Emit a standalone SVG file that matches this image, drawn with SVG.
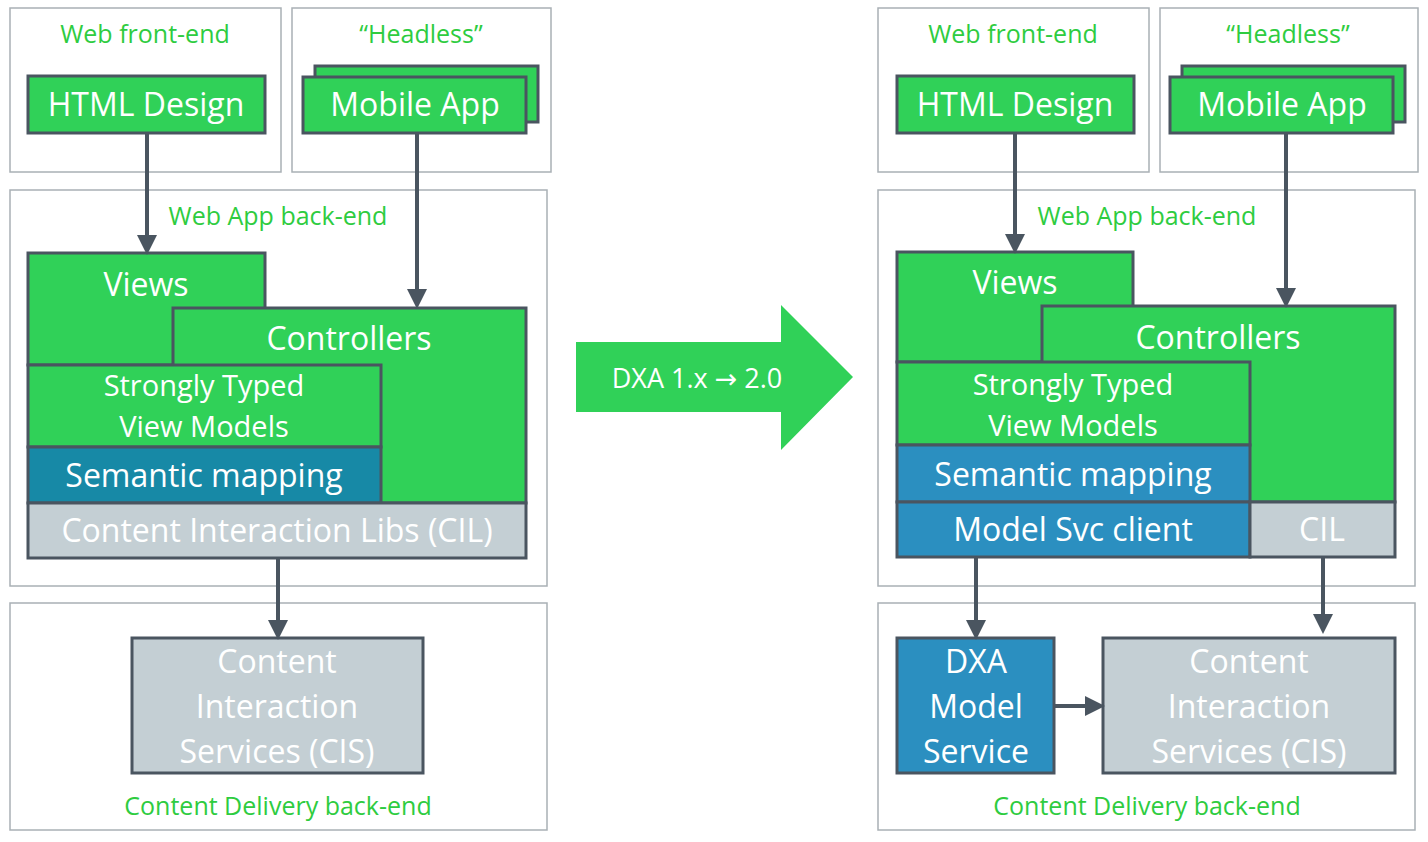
<svg xmlns="http://www.w3.org/2000/svg" width="1428" height="842" viewBox="0 0 1428 842">
<defs>
<style>
.panel{fill:#fff;stroke:#a9b0b5;stroke-width:1.5}
.g{fill:#30d158;stroke:#4a5560;stroke-width:3}
.b{fill:#1789a6;stroke:#4a5560;stroke-width:3}
.b2{fill:#2b8fc0;stroke:#4a5560;stroke-width:3}
.gr{fill:#c4cfd4;stroke:#4a5560;stroke-width:3}
text{font-family:"Open Sans","Noto Sans",sans-serif;text-anchor:middle}
.lbl{fill:#2ecc40;font-size:25px}
.w{fill:#fff;font-size:32px}
.w2{fill:#fff;font-size:29px}
.c{stroke:#4a5560;stroke-width:4;fill:none;marker-end:url(#ah)}
</style>
<marker id="ah" markerWidth="5" markerHeight="5" refX="4" refY="2.5" orient="auto"><path d="M0,0L5,2.5L0,5z" fill="#4a5560"/></marker>
</defs>
<rect width="1428" height="842" fill="#fff"/>
<g id="left">
<g id="l-web"><rect class="panel" x="10" y="8" width="271" height="164"/><text class="lbl" x="145" y="43">Web front-end</text></g>
<g id="l-html"><rect class="g" x="28" y="76" width="237" height="57"/><text class="w" x="146" y="116">HTML Design</text></g>
<g id="l-headless"><rect class="panel" x="292" y="8" width="259" height="164"/><text class="lbl" x="421" y="43">“Headless”</text></g>
<g id="l-mobile"><rect class="g" x="315" y="66" width="223" height="56"/><rect class="g" x="303" y="77" width="223" height="56"/><text class="w" x="415" y="116">Mobile App</text></g>
<g id="l-backend"><rect class="panel" x="10" y="190" width="537" height="396"/><text class="lbl" x="278" y="225">Web App back-end</text></g>
<g id="l-views"><rect class="g" x="28" y="253" width="237" height="112"/><text class="w" x="146" y="296">Views</text></g>
<g id="l-ctrl"><rect class="g" x="173" y="308" width="353" height="195"/><text class="w" x="349" y="350">Controllers</text></g>
<g id="l-svm"><rect class="g" x="28" y="365" width="353" height="82"/><text class="w2" x="204" y="396">Strongly Typed</text><text class="w2" x="204" y="437">View Models</text></g>
<g id="l-sem"><rect class="b" x="28" y="447" width="353" height="56"/><text class="w" x="204" y="487">Semantic mapping</text></g>
<g id="l-cil"><rect class="gr" x="28" y="503" width="498" height="55"/><text class="w" x="277" y="542">Content Interaction Libs (CIL)</text></g>
<g id="l-cd"><rect class="panel" x="10" y="603" width="537" height="227"/><text class="lbl" x="278" y="815">Content Delivery back-end</text></g>
<g id="l-cis"><rect class="gr" x="132" y="638" width="291" height="135"/><text class="w" x="277" y="673">Content</text><text class="w" x="277" y="718">Interaction</text><text class="w" x="277" y="763">Services (CIS)</text></g>
</g>
<g id="arrow"><path d="M576,342H781V305L853,377L781,450V412H576z" fill="#30d158"/><text fill="#fff" font-size="27" x="697" y="388">DXA 1.x <tspan font-family="DejaVu Sans">→</tspan> 2.0</text></g>
<g id="right">
<g id="r-web"><rect class="panel" x="878" y="8" width="271" height="164"/><text class="lbl" x="1013" y="43">Web front-end</text></g>
<g id="r-html"><rect class="g" x="897" y="76" width="237" height="57"/><text class="w" x="1015" y="116">HTML Design</text></g>
<g id="r-headless"><rect class="panel" x="1160" y="8" width="258" height="164"/><text class="lbl" x="1288" y="43">“Headless”</text></g>
<g id="r-mobile"><rect class="g" x="1182" y="66" width="223" height="56"/><rect class="g" x="1170" y="77" width="223" height="56"/><text class="w" x="1282" y="116">Mobile App</text></g>
<g id="r-backend"><rect class="panel" x="878" y="190" width="537" height="396"/><text class="lbl" x="1147" y="225">Web App back-end</text></g>
<g id="r-views"><rect class="g" x="897" y="252" width="236" height="110"/><text class="w" x="1015" y="294">Views</text></g>
<g id="r-ctrl"><rect class="g" x="1042" y="306" width="353" height="196"/><text class="w" x="1218" y="349">Controllers</text></g>
<g id="r-svm"><rect class="g" x="897" y="362" width="353" height="83"/><text class="w2" x="1073" y="395">Strongly Typed</text><text class="w2" x="1073" y="436">View Models</text></g>
<g id="r-sem"><rect class="b2" x="897" y="445" width="353" height="57"/><text class="w" x="1073" y="486">Semantic mapping</text></g>
<g id="r-msc"><rect class="b2" x="897" y="502" width="353" height="55"/><text class="w" x="1073" y="541">Model Svc client</text></g>
<g id="r-cil"><rect class="gr" x="1250" y="502" width="145" height="55"/><text class="w" x="1322" y="541">CIL</text></g>
<g id="r-cd"><rect class="panel" x="878" y="603" width="537" height="227"/><text class="lbl" x="1147" y="815">Content Delivery back-end</text></g>
<g id="r-dxa"><rect class="b2" x="897" y="638" width="157" height="135"/><text class="w" x="976" y="673">DXA</text><text class="w" x="976" y="718">Model</text><text class="w" x="976" y="763">Service</text></g>
<g id="r-cis"><rect class="gr" x="1103" y="638" width="292" height="135"/><text class="w" x="1249" y="673">Content</text><text class="w" x="1249" y="718">Interaction</text><text class="w" x="1249" y="763">Services (CIS)</text></g>
</g>
<g id="connectors">
<path class="c" d="M147,134V251"/>
<path class="c" d="M417,134V305"/>
<path class="c" d="M278,559V636"/>
<path class="c" d="M1015,134V250"/>
<path class="c" d="M1286,134V304"/>
<path class="c" d="M976,558V636"/>
<path class="c" d="M1323,558V630"/>
<path class="c" d="M1055,706H1101"/>
</g>
</svg>
